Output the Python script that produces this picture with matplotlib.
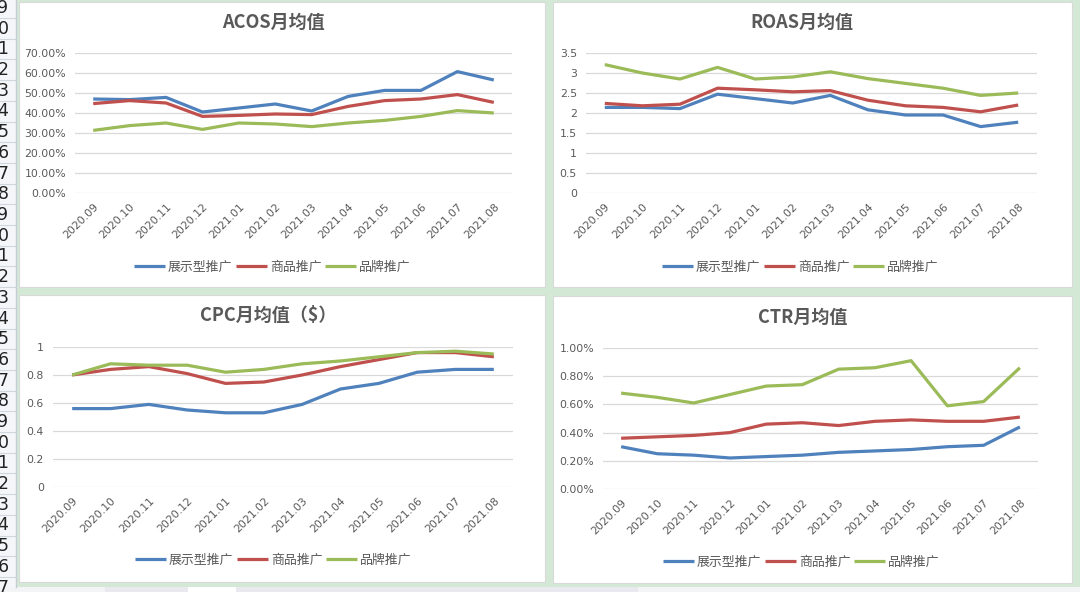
import matplotlib

matplotlib.use("Agg")
import matplotlib.pyplot as plt
from matplotlib.patches import Rectangle
from matplotlib.ticker import FuncFormatter

plt.rcParams["font.family"] = ["Noto Sans CJK SC", "DejaVu Sans"]

months = ["2020.09", "2020.10", "2020.11", "2020.12", "2021.01", "2021.02",
          "2021.03", "2021.04", "2021.05", "2021.06", "2021.07", "2021.08"]
series_names = ["展示型推广", "商品推广", "品牌推广"]

# ACOS, in %
acos_display = [47.0, 46.7, 47.8, 40.5, 42.5, 44.5, 41.0, 48.3, 51.3, 51.3, 60.7, 56.5]
acos_product = [44.7, 46.2, 45.0, 38.3, 38.8, 39.5, 39.2, 43.3, 46.2, 47.0, 49.2, 45.3]
acos_brand = [31.3, 33.7, 35.0, 31.8, 35.0, 34.5, 33.2, 35.0, 36.3, 38.3, 41.2, 40.0]

# ROAS
roas_display = [2.14, 2.14, 2.11, 2.47, 2.36, 2.25, 2.44, 2.08, 1.95, 1.95, 1.66, 1.77]
roas_product = [2.24, 2.18, 2.22, 2.62, 2.58, 2.53, 2.56, 2.32, 2.18, 2.14, 2.03, 2.20]
roas_brand = [3.21, 3.00, 2.85, 3.14, 2.85, 2.90, 3.03, 2.86, 2.74, 2.62, 2.44, 2.50]

# CPC ($)
cpc_display = [0.56, 0.56, 0.59, 0.55, 0.53, 0.53, 0.59, 0.70, 0.74, 0.82, 0.84, 0.84]
cpc_product = [0.80, 0.84, 0.86, 0.81, 0.74, 0.75, 0.80, 0.86, 0.91, 0.96, 0.96, 0.93]
cpc_brand = [0.80, 0.88, 0.87, 0.87, 0.82, 0.84, 0.88, 0.90, 0.93, 0.96, 0.97, 0.95]

# CTR, in %
ctr_display = [0.30, 0.25, 0.24, 0.22, 0.23, 0.24, 0.26, 0.27, 0.28, 0.30, 0.31, 0.44]
ctr_product = [0.36, 0.37, 0.38, 0.40, 0.46, 0.47, 0.45, 0.48, 0.49, 0.48, 0.48, 0.51]
ctr_brand = [0.68, 0.65, 0.61, 0.67, 0.73, 0.74, 0.85, 0.86, 0.91, 0.59, 0.62, 0.86]

colors = ["#4F81BD", "#C0504D", "#9BBB59"]
TEXT = "#595959"
W, H = 1080, 592


def box(x0, y0, x1, y1):
    # pixel box (top-left origin) -> figure fraction rect
    return [x0 / W, 1 - y1 / H, (x1 - x0) / W, (y1 - y0) / H]


def fx(x):
    return x / W


def fy(y):
    return 1 - y / H


fig = plt.figure(figsize=(W / 100, H / 100), dpi=100)
fig.patch.set_facecolor("#d3e9d6")

# row header strip on the left
fig.patches.append(Rectangle((0, fy(587)), fx(16), fy(0) - fy(587),
                             transform=fig.transFigure, facecolor="#f4f6f9",
                             edgecolor="none", zorder=0))
fig.add_artist(plt.Line2D([fx(16), fx(16)], [fy(0), fy(587)], color="#c5ccd6", lw=1))
for k in range(29):
    yb = 18 + k * 20.7
    fig.add_artist(plt.Line2D([0, fx(16)], [fy(yb), fy(yb)], color="#d0d6de", lw=0.8))
    fig.text(fx(8.5), fy(yb - 10), str((9 + k) % 10), ha="right", va="center",
             fontsize=12.5, color="#222222", family="DejaVu Sans")

# sheet tab bar at the bottom
fig.patches.append(Rectangle((0, 0), 1, fy(587), transform=fig.transFigure,
                             facecolor="#e9e9ef", edgecolor="none", zorder=0))
fig.patches.append(Rectangle((0, 0), fx(105), fy(587), transform=fig.transFigure,
                             facecolor="#f3f4f6", edgecolor="none", zorder=0))
fig.patches.append(Rectangle((fx(188), 0), fx(48), fy(587), transform=fig.transFigure,
                             facecolor="#ffffff", edgecolor="none", zorder=0))
fig.patches.append(Rectangle((fx(638), 0), fx(442), fy(587), transform=fig.transFigure,
                             facecolor="#f3f4f6", edgecolor="none", zorder=0))

charts = [
    dict(title="ACOS月均值", data=[acos_display, acos_product, acos_brand],
         ylim=70, step=10, fmt=lambda v, p: f"{v:.2f}%",
         panel=(19, 2, 545, 287), ax=(75, 53, 512, 193),
         title_xy=(273, 22), leg_xy=(272, 267)),
    dict(title="ROAS月均值", data=[roas_display, roas_product, roas_brand],
         ylim=3.5, step=0.5, fmt=lambda v, p: f"{v:g}",
         panel=(553, 2, 1072, 287), ax=(586, 53, 1037, 193),
         title_xy=(802, 22), leg_xy=(800, 267)),
    dict(title="CPC月均值（$）", data=[cpc_display, cpc_product, cpc_brand],
         ylim=1.0, step=0.2, fmt=lambda v, p: f"{v:g}",
         panel=(19, 295, 545, 582), ax=(53, 347, 513, 487),
         title_xy=(268, 315), leg_xy=(273, 560)),
    dict(title="CTR月均值", data=[ctr_display, ctr_product, ctr_brand],
         ylim=1.0, step=0.2, fmt=lambda v, p: f"{v:.2f}%",
         panel=(553, 296, 1072, 583), ax=(603, 348, 1038, 489),
         title_xy=(803, 317), leg_xy=(801, 562)),
]

for c in charts:
    x0, y0, x1, y1 = c["panel"]
    fig.patches.append(Rectangle((fx(x0), fy(y1)), fx(x1 - x0), fy(y0) - fy(y1),
                                 transform=fig.transFigure, facecolor="white",
                                 edgecolor="#d9d9d9", lw=0.8, zorder=0))

    ax = fig.add_axes(box(*c["ax"]), zorder=2)
    ax.set_facecolor("none")
    xs = range(len(months))
    handles = []
    for vals, name, col in zip(c["data"], series_names, colors):
        (h,) = ax.plot(xs, vals, color=col, lw=2.3, label=name,
                       solid_joinstyle="round", solid_capstyle="butt")
        handles.append(h)

    ax.set_xlim(-0.5, len(months) - 0.5)
    ax.set_ylim(0, c["ylim"])
    n = int(round(c["ylim"] / c["step"]))
    ax.set_yticks([i * c["step"] for i in range(n + 1)])
    ax.yaxis.set_major_formatter(FuncFormatter(c["fmt"]))
    ax.set_xticks(list(xs))
    ax.set_xticklabels(months, rotation=45, ha="right", rotation_mode="anchor")
    ax.grid(axis="y", color="#d9d9d9", lw=0.9)
    ax.set_axisbelow(True)
    for s in ax.spines.values():
        s.set_visible(False)
    ax.tick_params(axis="both", length=0, colors=TEXT)
    ax.tick_params(axis="x", pad=6)
    ax.tick_params(axis="y", pad=6.5)
    for lab in ax.get_xticklabels() + ax.get_yticklabels():
        lab.set_family("DejaVu Sans")
        lab.set_fontsize(7.8)

    fig.text(fx(c["title_xy"][0]), fy(c["title_xy"][1]), c["title"],
             ha="center", va="center", fontsize=13, fontweight="bold", color=TEXT,
             zorder=3)
    leg = fig.legend(handles=handles, loc="center",
                     bbox_to_anchor=(fx(c["leg_xy"][0]), fy(c["leg_xy"][1])),
                     ncol=3, frameon=False, fontsize=9.3, handlelength=2.4,
                     handletextpad=0.25, columnspacing=0.25, labelcolor=TEXT)
    leg.set_zorder(3)

fig.savefig("out.png", dpi=100, facecolor=fig.get_facecolor())
